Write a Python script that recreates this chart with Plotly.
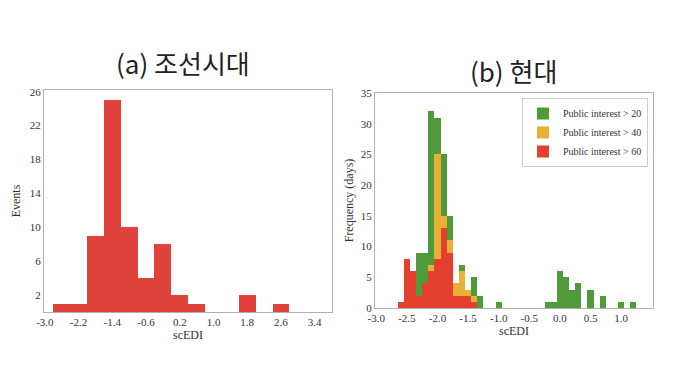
import plotly.graph_objects as go

# Panel (a): Joseon era, bin width 0.4
a_centers = [-2.6, -2.2, -1.8, -1.4, -1.0, -0.6, -0.2, 0.2, 0.6, 1.8, 2.6]
a_events = [1, 1, 9, 25, 10, 4, 8, 2, 1, 2, 1]
a_xticks = [-3.0, -2.2, -1.4, -0.6, 0.2, 1.0, 1.8, 2.6, 3.4]
a_yticks = [2, 6, 10, 14, 18, 22, 26]

# Panel (b): modern era, bin width 0.1
b_centers = [-2.6, -2.5, -2.4, -2.3, -2.2, -2.1, -2.0, -1.9, -1.8, -1.7, -1.6, -1.5, -1.4, -1.3,
             -1.0, -0.2, -0.1, 0.0, 0.1, 0.2, 0.3, 0.5, 0.7, 1.0, 1.2]
b_pi20 = [1, 8, 6, 9, 9, 32, 31, 25, 15, 4, 7, 3, 5, 2,
          1, 1, 1, 6, 5, 3, 4, 3, 2, 1, 1]
b_pi40 = [1, 8, 6, 2, 4, 7, 25, 15, 11, 4, 6, 3, 2, 0,
          0, 0, 0, 0, 0, 0, 0, 0, 0, 0, 0]
b_pi60 = [1, 8, 6, 2, 4, 6, 8, 13, 9, 2, 2, 2, 1, 0,
          0, 0, 0, 0, 0, 0, 0, 0, 0, 0, 0]
b_xticks = [-3.0, -2.5, -2.0, -1.5, -1.0, -0.5, 0.0, 0.5, 1.0]
b_yticks = [0, 5, 10, 15, 20, 25, 30, 35]
series_names = ["Public interest > 20", "Public interest > 40", "Public interest > 60"]

GREEN = "#4f9a3a"
ORANGE = "#e8b035"
RED = "#e5402f"
RED_A = "#e0433b"

fig = go.Figure()
fig.add_trace(go.Bar(x=a_centers, y=a_events, width=0.4, marker=dict(color=RED_A, line_width=0),
                     xaxis="x", yaxis="y", showlegend=False))
for vals, name, col in zip([b_pi20, b_pi40, b_pi60], series_names, [GREEN, ORANGE, RED]):
    fig.add_trace(go.Bar(x=b_centers, y=vals, width=0.1, name=name,
                         marker=dict(color=col, line_width=0), xaxis="x2", yaxis="y2"))

serif = "Liberation Serif"
ax_common = dict(showgrid=False, zeroline=False, showline=True, mirror=True,
                 linecolor="#b0b0b0", linewidth=1, ticks="",
                 tickfont=dict(family=serif, size=11, color="#333"))

W, H = 680, 384
OFF = 8  # page body margin
def px(x):
    return (x - OFF) / W
def py(y):
    return 1 - (y - OFF) / H

fig.update_layout(
    width=W, height=H, margin=dict(l=0, r=0, t=0, b=0, autoexpand=False),
    plot_bgcolor="white", paper_bgcolor="white",
    barmode="overlay", bargap=0,
    xaxis=dict(domain=[px(44), px(332)], range=[-3.02, 3.81], tickvals=a_xticks,
               ticktext=[f"{v:.1f}" for v in a_xticks], anchor="y",
               title=dict(text="scEDI", font=dict(family=serif, size=12, color="#333"), standoff=2), **ax_common),
    yaxis=dict(domain=[py(312), py(90)], range=[0, 26.2], tickvals=a_yticks, anchor="x",
               title=dict(text="Events", font=dict(family=serif, size=12, color="#333"), standoff=6), **ax_common),
    xaxis2=dict(domain=[px(375), px(653)], range=[-3.02, 1.52], tickvals=b_xticks,
                ticktext=[f"{v:.1f}" for v in b_xticks], anchor="y2",
                title=dict(text="scEDI", font=dict(family=serif, size=12, color="#333"), standoff=2), **ax_common),
    yaxis2=dict(domain=[py(308), py(93)], range=[0, 35], tickvals=b_yticks, anchor="x2",
                title=dict(text="Frequency (days)", font=dict(family=serif, size=12, color="#333"), standoff=4), **ax_common),
    legend=dict(x=px(648), y=py(98), xanchor="right", yanchor="top", bgcolor="white",
                bordercolor="#cccccc", borderwidth=1, font=dict(family=serif, size=10, color="#333"),
                tracegroupgap=0, itemwidth=30),
    annotations=[
        dict(text="(a) 조선시대", x=px(183), y=py(63), xref="paper", yref="paper", showarrow=False,
             xanchor="center", yanchor="middle",
             font=dict(family="Noto Sans CJK KR", size=26, color="#222")),
        dict(text="(b) 현대", x=px(513), y=py(70), xref="paper", yref="paper", showarrow=False,
             xanchor="center", yanchor="middle",
             font=dict(family="Noto Sans CJK KR", size=26, color="#222")),
    ],
)

fig.write_html("out.html")
